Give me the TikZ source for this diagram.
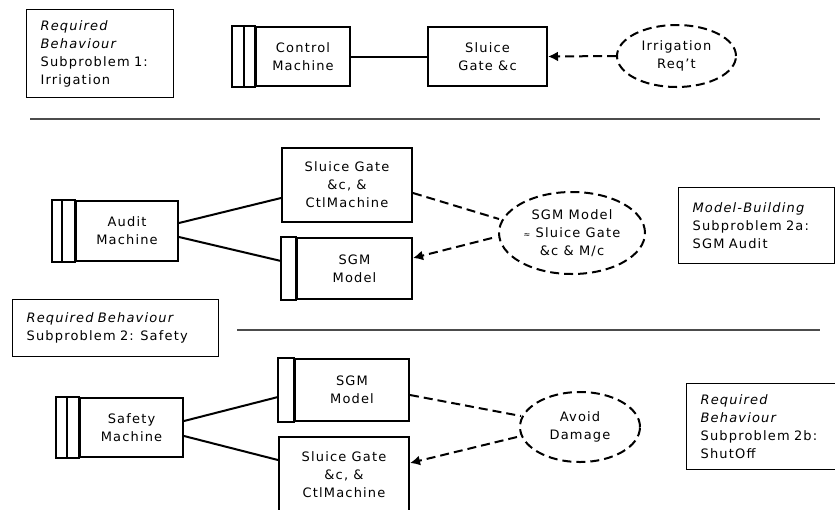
\documentclass[tikz,border=0pt]{standalone}
\usepackage{fontspec}
\setmainfont{DejaVu Sans}[LetterSpace=9]
\usetikzlibrary{shapes.geometric,arrows.meta}

\tikzset{
    mach/.style={draw, line width=2pt, align=center},
    given/.style={draw, line width=2pt, align=center},
    req/.style={draw, ellipse, line width=2pt, dash pattern=on 9pt off 5pt, align=center, inner sep=0pt},
    note/.style={draw, line width=1.2pt, align=left, anchor=north west, inner xsep=14pt, inner ysep=0pt},
    link/.style={line width=2pt},
    reflink/.style={line width=2pt, dash pattern=on 9pt off 5pt},
    rule/.style={line width=1.4pt, black!70},
}

\begin{document}
\begin{tikzpicture}[x=1pt, y=-1pt, font=\fontsize{13}{18}\selectfont, >={Latex[length=10pt,width=10pt]}]

    \useasboundingbox (0,0) rectangle (835,509);
    \clip (0,0) rectangle (835,509);

    % subproblem 1
    \node[note, text width=119pt, minimum height=88pt] (sp1) at (26,9)
        {\textit{Required}\\\textit{Behaviour}\\Subproblem 1:\\Irrigation};
    \node[mach, minimum width=94pt, minimum height=59pt] (ctl) at (303,56.5) {Control\\Machine};
    \node[given, minimum width=119pt, minimum height=59pt] (gate1) at (487.5,56.5) {Sluice\\Gate \&c};
    \node[req, minimum width=119pt, minimum height=62pt] (irr) at (676.5,56) {Irrigation\\Req’t};

    \draw[link] (ctl.east) -- (gate1.west);
    \draw[reflink,->] (irr.west) -- (gate1.east);

    \draw[rule] (30,119) -- (820,119);

    % subproblem 2a
    \node[mach, minimum width=102pt, minimum height=60pt] (audit) at (127,231) {Audit\\Machine};
    \node[given, minimum width=130pt, minimum height=74pt] (gate2) at (347,185) {Sluice Gate\\\&c, \&\\CtlMachine};
    \node[given, minimum width=115pt, minimum height=61pt] (sgm2) at (354.5,268.5) {SGM\\Model};
    \node[req, minimum width=146pt, minimum height=82pt] (model) at (572,233)
        {SGM Model\\{\footnotesize ≈} Sluice Gate\\\&c \& M/c};
    \node[note, text width=128pt, minimum height=76pt] (sp2a) at (678,187)
        {\textit{Model-Building}\\Subproblem 2a:\\SGM Audit};

    \draw[link] ([yshift=8pt]audit.east) -- ([yshift=-13pt]gate2.west);
    \draw[link] ([yshift=-6pt]audit.east) -- ([xshift=-15pt,yshift=7.5pt]sgm2.west);
    \draw[reflink] ([yshift=-8pt]gate2.east) -- ([xshift=1pt,yshift=14pt]model.west);
    \draw[reflink,->] ([xshift=-6pt,yshift=-5pt]model.west) -- ([yshift=10.5pt]sgm2.east);

    \node[note, text width=178pt, minimum height=57pt] (sp2) at (12,299)
        {\textit{Required Behaviour}\\Subproblem 2: Safety};

    \draw[rule] (237,330) -- (820,330);

    % subproblem 2b
    \node[mach, minimum width=103pt, minimum height=59pt] (safe) at (131.5,427.5) {Safety\\Machine};
    \node[given, minimum width=114pt, minimum height=62pt] (sgm3) at (352,390) {SGM\\Model};
    \node[given, minimum width=130pt, minimum height=75pt] (gate3) at (344,474.5) {Sluice Gate\\\&c, \&\\CtlMachine};
    \node[req, minimum width=120pt, minimum height=70pt] (avoid) at (580,427) {Avoid\\Damage};
    \node[note, text width=134pt, minimum height=86pt] (sp2b) at (686,383)
        {\textit{Required}\\\textit{Behaviour}\\Subproblem 2b:\\ShutOff};

    \draw[link] ([yshift=6.5pt]safe.east) -- ([xshift=-16pt,yshift=-7pt]sgm3.west);
    \draw[link] ([yshift=-8.5pt]safe.east) -- ([yshift=14.5pt]gate3.west);
    \draw[reflink] ([yshift=-5pt]sgm3.east) -- ([xshift=2pt,yshift=11pt]avoid.west);
    \draw[reflink,->] ([xshift=-2pt,yshift=-10pt]avoid.west) -- ([yshift=11.5pt]gate3.east);

    % stripes of the machines and models
    \foreach \n/\w/\s in {ctl/23/11, audit/23/13, safe/23/12} {
        \draw[line width=2pt] ([xshift=-\w pt]\n.north west) rectangle (\n.south west);
        \draw[line width=2pt] ([xshift=-\s pt]\n.north west) -- ([xshift=-\s pt]\n.south west);
    }
    \foreach \n/\w in {sgm2/15, sgm3/16} {
        \draw[line width=2pt] ([xshift=-\w pt]\n.north west) rectangle (\n.south west);
    }

\end{tikzpicture}
\end{document}
